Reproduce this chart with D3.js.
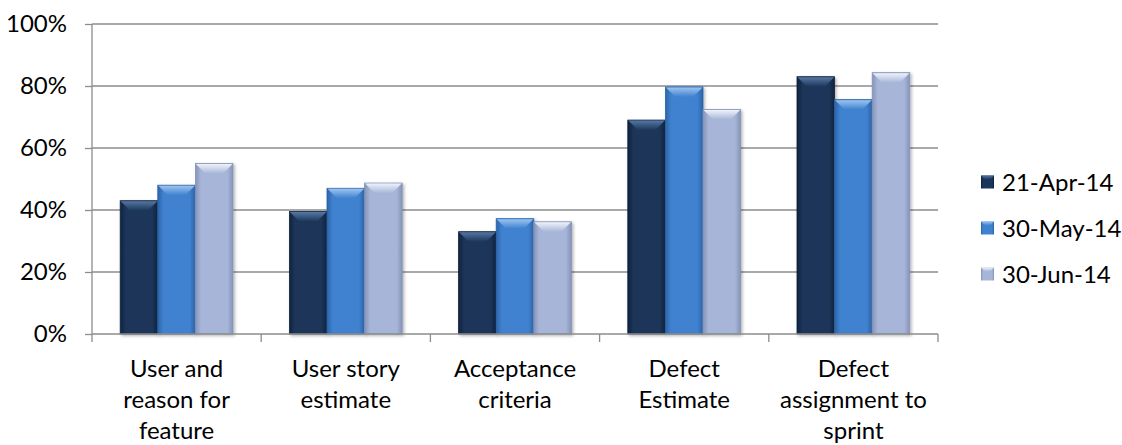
<!DOCTYPE html>
<html>
<head>
<meta charset="utf-8">
<script src="https://cdn.jsdelivr.net/npm/d3@7"></script>
<style>
  body { margin: 0; background: #fff; }
  text { font-family: Lato, "Open Sans", sans-serif; fill: #000; }
</style>
</head>
<body>
<div id="chart"></div>
<script>
// categories, with the line breaks used under the axis
const categories = [
  "User and\nreason for\nfeature",
  "User story\nestimate",
  "Acceptance\ncriteria",
  "Defect\nEstimate",
  "Defect\nassignment to\nsprint"
];
const seriesNames = ["21-Apr-14", "30-May-14", "30-Jun-14"];
const apr21 = [0.43, 0.395, 0.33, 0.69, 0.83];
const may30 = [0.48, 0.47, 0.372, 0.797, 0.756];
const jun30 = [0.55, 0.487, 0.362, 0.724, 0.843];
const yTicks = [0, 0.2, 0.4, 0.6, 0.8, 1];

const allSeries = [apr21, may30, jun30];
// base / edge / bevel colours per series
const palette = [
  { base: "#1c3659", edge: "#10223d", light: "#5577a3" },
  { base: "#3f82cf", edge: "#2c64a8", light: "#9cc4f0" },
  { base: "#a7b6d8", edge: "#8593b8", light: "#eef2fa" }
];

const width = 1122, height = 445;
const margin = { top: 24, bottom: 111, left: 92, right: 184 };

const svg = d3.select("#chart").append("svg")
  .attr("width", width).attr("height", height);

const defs = svg.append("defs");
palette.forEach((p, i) => {
  const g = defs.append("linearGradient").attr("id", "side" + i)
    .attr("x1", 0).attr("x2", 1).attr("y1", 0).attr("y2", 0);
  g.append("stop").attr("offset", "0%").attr("stop-color", p.edge);
  g.append("stop").attr("offset", "15%").attr("stop-color", p.base);
  g.append("stop").attr("offset", "85%").attr("stop-color", p.base);
  g.append("stop").attr("offset", "100%").attr("stop-color", p.edge);
  const t = defs.append("linearGradient").attr("id", "top" + i)
    .attr("x1", 0).attr("x2", 0).attr("y1", 0).attr("y2", 1);
  t.append("stop").attr("offset", "0%").attr("stop-color", p.light);
  t.append("stop").attr("offset", "100%").attr("stop-color", p.base);
});
const shadow = defs.append("filter").attr("id", "shadow")
  .attr("x", "-20%").attr("y", "-20%").attr("width", "140%").attr("height", "140%");
shadow.append("feDropShadow").attr("dx", 1.5).attr("dy", 1.5)
  .attr("stdDeviation", 1.5).attr("flood-color", "#000").attr("flood-opacity", 0.3);

const x = d3.scaleBand()
  .domain(d3.range(categories.length))
  .range([margin.left, width - margin.right])
  .paddingInner(0).paddingOuter(0);

const x1 = d3.scaleBand()
  .domain(d3.range(seriesNames.length))
  .range([0, x.bandwidth()])
  .paddingInner(0).paddingOuter(0.75);

const y = d3.scaleLinear()
  .domain([0, 1])
  .range([height - margin.bottom, margin.top]);

// gridlines
svg.append("g")
  .selectAll("line")
  .data(yTicks.slice(1))
  .join("line")
    .attr("x1", margin.left).attr("x2", width - margin.right)
    .attr("y1", d => y(d)).attr("y2", d => y(d))
    .attr("stroke", "#8c8c8c").attr("stroke-width", 1.3);

// y axis
svg.append("g")
  .attr("transform", `translate(${margin.left},0)`)
  .call(d3.axisLeft(y).tickValues(yTicks).tickFormat(d3.format(".0%")).tickSize(7).tickPadding(18))
  .call(g => g.selectAll("path, line").attr("stroke", "#8c8c8c").attr("stroke-width", 1.3))
  .call(g => g.select(".domain").attr("d", `M0,${y(0)}V${y(1)}`))
  .call(g => g.selectAll("text").attr("font-size", "24px").attr("font-family", "Lato, 'Open Sans', sans-serif").attr("fill", "#000"));

// bars
const bevel = 10;
allSeries.forEach((vals, s) => {
  const g = svg.append("g").attr("filter", "url(#shadow)");
  vals.forEach((v, i) => {
    const bx = x(i) + x1(s), bw = x1.bandwidth();
    const top = y(v), bottom = y(0);
    g.append("rect")
      .attr("x", bx).attr("y", top)
      .attr("width", bw).attr("height", bottom - top)
      .attr("fill", `url(#side${s})`)
      .attr("stroke", palette[s].edge).attr("stroke-width", 0.8);
    g.append("path")
      .attr("d", `M${bx + 0.5},${top + 0.5}L${bx + bw - 0.5},${top + 0.5}L${bx + bw - bevel},${top + bevel}L${bx + bevel},${top + bevel}Z`)
      .attr("fill", `url(#top${s})`);
  });
});

// x axis
const xg = svg.append("g").attr("transform", `translate(0,${y(0)})`);
xg.append("line")
  .attr("x1", margin.left).attr("x2", width - margin.right)
  .attr("stroke", "#8c8c8c").attr("stroke-width", 1.3);
xg.selectAll(".tick")
  .data(d3.range(categories.length + 1))
  .join("line")
    .attr("x1", i => margin.left + i * x.step()).attr("x2", i => margin.left + i * x.step())
    .attr("y1", 0).attr("y2", 8)
    .attr("stroke", "#8c8c8c").attr("stroke-width", 1.3);

const labels = xg.selectAll("text.cat")
  .data(categories)
  .join("text")
    .attr("class", "cat")
    .attr("text-anchor", "middle")
    .attr("font-size", "24px")
    .attr("x", (d, i) => x(i) + x.bandwidth() / 2)
    .attr("y", 43);
labels.selectAll("tspan")
  .data(d => d.split("\n"))
  .join("tspan")
    .attr("x", function() { return this.parentNode.getAttribute("x"); })
    .attr("dy", (d, i) => i === 0 ? 0 : 31)
    .text(d => d);

// legend
const legend = svg.append("g").attr("transform", "translate(981,182)");
seriesNames.forEach((name, s) => {
  const row = legend.append("g").attr("transform", `translate(0,${s * 46})`);
  row.append("rect")
    .attr("x", 0).attr("y", -6.5).attr("width", 13).attr("height", 13)
    .attr("fill", `url(#side${s})`);
  row.append("path")
    .attr("d", "M0,-6.5L13,-6.5L9,-2.5L4,-2.5Z")
    .attr("fill", `url(#top${s})`);
  row.append("text")
    .attr("x", 21).attr("y", 0).attr("dy", "0.36em")
    .attr("font-size", "24px")
    .text(name);
});
</script>
</body>
</html>
